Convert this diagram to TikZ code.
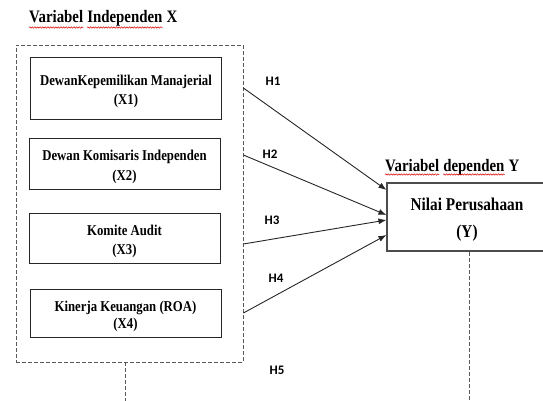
\documentclass[tikz,border=0pt]{standalone}
\usepackage{fontspec}
\newfontfamily\narrowserif{Liberation Serif Bold}[FakeStretch=0.85]
\newfontfamily\hlabelfont{Carlito Bold}
\usetikzlibrary{positioning,arrows.meta,decorations.pathmorphing,calc}
\newcommand{\boxlift}{\rule{0pt}{17pt}}
\tikzset{
  varbox/.style={draw=black!85, line width=0.9pt, minimum width=191pt, inner sep=0pt,
    align=center, font=\narrowserif\fontsize{15}{19.5}\selectfont},
  ybox/.style={draw=black!70, line width=1.1pt, minimum width=160pt, minimum height=68pt,
    inner sep=0pt, align=center, font=\narrowserif\fontsize{18}{27}\selectfont},
  titletxt/.style={inner sep=0pt, anchor=base west,
    font=\narrowserif\fontsize{17.5}{21}\selectfont},
  hlabel/.style={font=\hlabelfont\fontsize{13}{15}\selectfont},
  hyparrow/.style={-{Latex[length=8pt,width=6pt]}, line width=0.9pt, draw=black!85},
  dashline/.style={draw=black!65, line width=0.8pt, dash pattern=on 4pt off 2pt},
  squiggle/.style={draw=red!85!black, line width=0.5pt, decorate,
    decoration={snake, amplitude=0.7pt, segment length=2.6pt}}
}
\begin{document}
\begin{tikzpicture}[x=1pt,y=-1pt]
\useasboundingbox (0,0) rectangle (543,401);
\clip (0,0) rectangle (543,401);

% variabel independen
\node[titletxt] (tvar) at (29,23) {Variabel};
\node[titletxt, right=3.7pt of tvar.base east, anchor=base west] (tind) {Independen};
\node[titletxt, right=3.7pt of tind.base east, anchor=base west] (tx) {X};
\draw[squiggle] ([yshift=-4.5pt]tvar.base west) -- ([yshift=-4.5pt]tvar.base east);
\draw[squiggle] ([yshift=-4.5pt]tind.base west) -- ([yshift=-4.5pt]tind.base east);

\node[varbox, minimum height=62pt] (x1) at (126,88) {\boxlift DewanKepemilikan Manajerial\\(X1)};
\node[varbox, minimum height=51pt] (x2) at (124.5,163.5) {\boxlift Dewan Komisaris Independen\\(X2)};
\node[varbox, minimum height=50pt] (x3) at (124.5,238) {\boxlift Komite Audit\\(X3)};
\node[varbox, minimum height=48pt] (x4) at (125.5,313) {\boxlift Kinerja Keuangan (ROA)\\[-2.5pt](X4)};
\node[dashline, minimum width=227pt, minimum height=317pt, inner sep=0pt] (indep) at (129.5,203.5) {};
\coordinate (indepEnd) at (125,401);
\draw[dashline] (indep.south -| indepEnd) -- (indepEnd);

% variabel dependen
\node[titletxt] (yvar) at (385,171.5) {Variabel};
\node[titletxt, right=3.7pt of yvar.base east, anchor=base west] (ydep) {dependen};
\node[titletxt, right=3.7pt of ydep.base east, anchor=base west] (yy) {Y};
\draw[squiggle] ([yshift=-3pt]yvar.base west) -- ([yshift=-3pt]yvar.base east);
\draw[squiggle] ([yshift=-3pt]ydep.base west) -- ([yshift=-3pt]ydep.base east);

\node[ybox] (boxY) at (467,217) {\boxlift Nilai Perusahaan\\(Y)};
\coordinate (depEnd) at (469,401);
\draw[dashline] (boxY.south -| depEnd) -- (depEnd);

% hipotesis
\draw[hyparrow] (indep.east |- x1) -- ([yshift=27pt]boxY.west);
\draw[hyparrow] ($(indep.east |- x2)+(0pt,8.5pt)$) -- ([yshift=2pt]boxY.west);
\draw[hyparrow] ($(indep.east |- x3)+(0pt,-6pt)$) -- ([yshift=-3pt]boxY.west);
\draw[hyparrow] (indep.east |- x4) -- ([yshift=-18pt]boxY.west);

\node[hlabel] (h1) at (273,81) {H1};
\node[hlabel] (h2) at (270,154) {H2};
\node[hlabel] (h3) at (272,220) {H3};
\node[hlabel] (h4) at (276,278) {H4};
\node[hlabel] (h5) at (277,370) {H5};
\end{tikzpicture}
\end{document}
